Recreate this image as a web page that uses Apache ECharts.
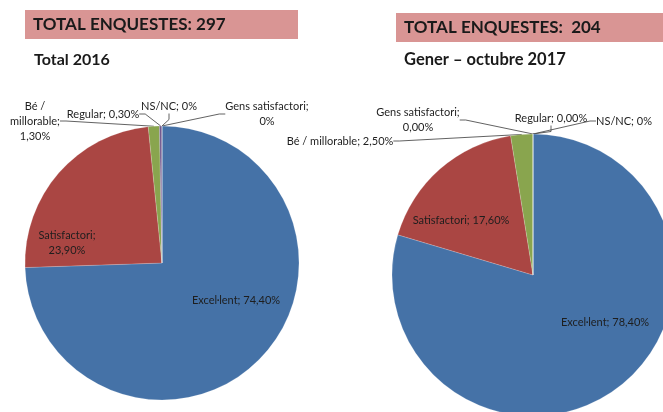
<!DOCTYPE html>
<html>
<head>
<meta charset="utf-8">
<script src="https://cdn.jsdelivr.net/npm/echarts@6/dist/echarts.min.js"></script>
<style>
  html, body { margin: 0; padding: 0; background: #fff; }
  #chart { width: 663px; height: 412px; }
</style>
</head>
<body>
<div id="chart"></div>
<script>
// dades
const categories = ['Excel·lent', 'Satisfactori', 'Bé / millorable', 'Regular', 'Gens satisfactori', 'NS/NC'];
const values2016 = [74.4, 23.9, 1.3, 0.3, 0, 0];
const values2017 = [78.4, 17.6, 2.5, 0, 0, 0];
const pctText2016 = ['74,40%', '23,90%', '1,30%', '0,30%', '0%', '0%'];
const pctText2017 = ['78,40%', '17,60%', '2,50%', '0,00%', '0,00%', '0%'];
const totals = [297, 204];
const subtitles = ['Total 2016', 'Gener – octubre 2017'];

const colors = ['#4572A7', '#AA4643', '#89A54E', '#71588F', '#4198AF', '#DB843D'];
const FONT = 'Lato';

// label text for each slice (line breaks as in the original)
const labelText2016 = [
  'Excel·lent; 74,40%',
  'Satisfactori;\n23,90%',
  'Bé /\nmillorable;\n1,30%',
  'Regular; 0,30%',
  'Gens satisfactori;\n0%',
  'NS/NC; 0%'
];
const labelText2017 = [
  'Excel·lent; 78,40%',
  'Satisfactori; 17,60%',
  'Bé / millorable; 2,50%',
  'Regular; 0,00%',
  'Gens satisfactori;\n0,00%',
  'NS/NC; 0%'
];

// where each label sits
const labelPos2016 = [[236, 300], [67, 243], [35, 121], [103, 114], [267, 114], [169, 106]];
const labelPos2017 = [[605, 322], [461, 220], [340, 141], [551, 118], [418, 120], [624, 121]];

const makeData = (vals, texts) => categories.map((c, i) => ({
  name: c,
  value: vals[i],
  label: {
    formatter: texts[i],
    position: i < 2 ? 'inside' : 'outside'
  },
  labelLine: { show: i >= 2 }
}));

const pieSeries = (vals, texts, pos, center, radius) => ({
  type: 'pie',
  center: center,
  radius: radius,
  startAngle: 90,
  clockwise: true,
  avoidLabelOverlap: false,
  color: colors,
  itemStyle: { borderColor: 'rgba(255,255,255,0.35)', borderWidth: 0.5 },
  label: {
    fontFamily: FONT,
    fontSize: 11,
    color: '#1e1e1e',
    lineHeight: 15,
    align: 'center'
  },
  labelLine: {
    length: 6,
    length2: 6,
    lineStyle: { color: '#3a3a3a', width: 0.8 }
  },
  labelLayout: (p) => ({
    x: pos[p.dataIndex][0],
    y: pos[p.dataIndex][1],
    align: 'center',
    verticalAlign: 'middle'
  }),
  emphasis: { disabled: true },
  data: makeData(vals, texts)
});

const chart = echarts.init(document.getElementById('chart'), null, { renderer: 'canvas' });

chart.setOption({
  animation: false,
  backgroundColor: '#fff',
  graphic: [
    { type: 'rect', shape: { x: 25, y: 10, width: 273, height: 29 }, style: { fill: '#D99594' } },
    { type: 'text', x: 33, y: 25, style: { text: 'TOTAL ENQUESTES: ' + totals[0], font: 'bold 17px ' + FONT, fill: '#1a1a1a', verticalAlign: 'middle' } },
    { type: 'rect', shape: { x: 396, y: 13, width: 270, height: 29 }, style: { fill: '#D99594' } },
    { type: 'text', x: 404, y: 28, style: { text: 'TOTAL ENQUESTES:  ' + totals[1], font: 'bold 17px ' + FONT, fill: '#1a1a1a', verticalAlign: 'middle' } },
    { type: 'text', x: 34, y: 60, style: { text: subtitles[0], font: 'bold 16px ' + FONT, fill: '#1a1a1a', verticalAlign: 'middle' } },
    { type: 'text', x: 404, y: 60, style: { text: subtitles[1], font: 'bold 16.5px ' + FONT, fill: '#1a1a1a', verticalAlign: 'middle' } }
  ],
  series: [
    pieSeries(values2016, labelText2016, labelPos2016, [162, 263], 137),
    pieSeries(values2017, labelText2017, labelPos2017, [533, 275], 141)
  ]
});
</script>
</body>
</html>
